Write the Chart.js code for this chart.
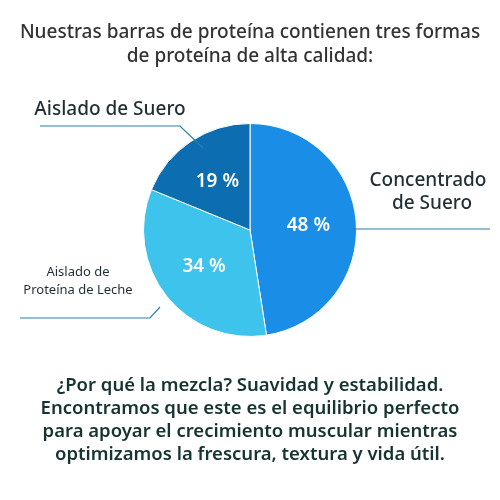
<!DOCTYPE html>
<html><head><meta charset="utf-8">
<script src="https://cdn.jsdelivr.net/npm/chart.js@4"></script>
<style>html,body{margin:0;padding:0;background:#fff}#w{width:500px;height:500px}</style>
</head><body><div id="w"><canvas id="c" width="500" height="500"></canvas></div>
<script>
const categories = ["Concentrado de Suero", "Aislado de Proteína de Leche", "Aislado de Suero"];
const values = [48, 34, 19];
const colors = ["#1a8ee6", "#3ec3ec", "#0c6db0"];
const titleLines = ["Nuestras barras de proteína contienen tres formas", "de proteína de alta calidad:"];
const bottomLines = ["¿Por qué la mezcla? Suavidad y estabilidad.", "Encontramos que este es el equilibrio perfecto", "para apoyar el crecimiento muscular mientras", "optimizamos la frescura, textura y vida útil."];

const deco = {
  id: 'deco',
  afterDraw(chart) {
    const ctx = chart.ctx;
    ctx.save();
    ctx.textAlign = 'center'; ctx.textBaseline = 'middle';
    ctx.fillStyle = '#333';
    ctx.font = '500 19px "Noto Sans"';
    titleLines.forEach((t, i) => ctx.fillText(t, 250, 33 + i * 24));
    ctx.fillStyle = '#163431';
    ctx.font = '600 18.5px "Noto Sans"';
    bottomLines.forEach((t, i) => ctx.fillText(t, 250, 386 + i * 23));
    const meta = chart.getDatasetMeta(0);
    ctx.fillStyle = '#fff';
    ctx.font = '600 19px "Noto Sans"';
    meta.data.forEach((arc, i) => {
      const a = (arc.startAngle + arc.endAngle) / 2;
      const r = arc.outerRadius * 0.55;
      ctx.fillText(values[i] + ' %', arc.x + Math.cos(a) * r, arc.y + Math.sin(a) * r);
    });
    ctx.strokeStyle = '#2a7fa8'; ctx.lineWidth = 1.2;
    ctx.beginPath(); ctx.moveTo(352, 229); ctx.lineTo(490, 229); ctx.stroke();
    ctx.beginPath(); ctx.moveTo(40, 126); ctx.lineTo(180, 126); ctx.lineTo(203, 148); ctx.stroke();
    ctx.beginPath(); ctx.moveTo(20, 318); ctx.lineTo(150, 318); ctx.lineTo(160, 307); ctx.stroke();
    ctx.fillStyle = '#1f2f35';
    ctx.font = '500 19px "Noto Sans"';
    ctx.fillText('Concentrado', 428, 181);
    ctx.fillText('de Suero', 432, 204);
    ctx.fillText('Aislado de Suero', 110, 110);
    ctx.font = '13px "Noto Sans"';
    ctx.fillText('Aislado de', 78, 272);
    ctx.fillText('Proteína de Leche', 78, 290);
    ctx.restore();
  }
};

new Chart(document.getElementById('c'), {
  type: 'pie',
  data: { labels: categories, datasets: [{ data: values, backgroundColor: colors, borderColor: '#fff', borderWidth: 1 }] },
  options: {
    responsive: false, animation: false,
    layout: { padding: { top: 123, bottom: 163, left: 143, right: 143 } },
    plugins: { legend: { display: false }, tooltip: { enabled: false }, title: { display: false } }
  },
  plugins: [deco]
});
</script></body></html>
